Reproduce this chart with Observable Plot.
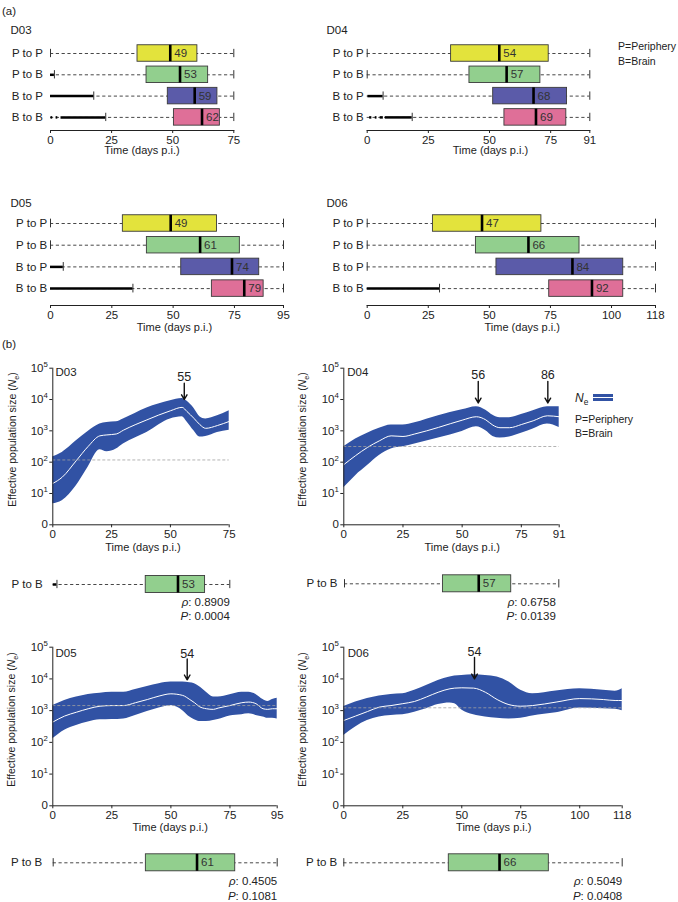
<!DOCTYPE html>
<html><head><meta charset="utf-8">
<script src="https://cdn.jsdelivr.net/npm/d3@7"></script>
<script src="https://cdn.jsdelivr.net/npm/@observablehq/plot@0.6"></script>
<style>
body{margin:0;background:#fff;}
#root{position:relative;width:678px;height:902px;overflow:hidden;font-family:"Liberation Sans",Arial,Helvetica,sans-serif;color:#222;background:#fff;}
.abs{position:absolute;white-space:nowrap;line-height:1;}
</style></head><body><div id="root"></div>
<script>
// ---------------- DATA ----------------
const rows = ["P to P", "P to B", "B to P", "B to B"];
const rowColors = ["#e3e33c", "#92cf8e", "#5b5ba9", "#df6f98"];
const legendTexts = ["P=Periphery", "B=Brain"];

const maxD03 = 75, maxD04 = 91, maxD05 = 95, maxD06 = 118;
const ticksD03 = [0, 25, 50, 75];
const ticksD04 = [0, 25, 50, 75, 91];
const ticksD05 = [0, 25, 50, 75, 95];
const ticksD06 = [0, 25, 50, 75, 100, 118];

// box limits (days p.i.) per row: P to P, P to B, B to P, B to B
const q1D03 = [35.6, 39.3, 48.0, 50.5];
const q3D03 = [60.1, 64.5, 68.3, 69.3];
const medD03 = [49, 53, 59, 62];
const q1D04 = [34.3, 41.8, 51.5, 56.1];
const q3D04 = [74.2, 70.8, 81.7, 81.4];
const medD04 = [54, 57, 68, 69];
const q1D05 = [29.5, 39.3, 53.3, 65.8];
const q3D05 = [67.9, 77.2, 85.1, 86.9];
const medD05 = [49, 61, 74, 79];
const q1D06 = [26.9, 44.5, 52.9, 74.5];
const q3D06 = [71.3, 86.9, 104.8, 104.8];
const medD06 = [47, 66, 84, 92];

// solid black segments: [row index, start day, end day]
const solidD03 = [[1, 0, 1.6], [2, 0, 17.7], [3, 0.2, 0.9], [3, 2.3, 3.0], [3, 4.3, 22.6]];
const solidD04 = [[2, 0.3, 6.5], [3, 1.0, 1.9], [3, 3.3, 4.0], [3, 5.3, 6.6], [3, 7.4, 18.4]];
const solidD05 = [[2, 0, 5.2], [3, 0, 33.6]];
const solidD06 = [[3, 0, 29.6]];

// Bayesian skyline (log10 Ne): days, upper HPD, median, lower HPD
const dayD03 = [0, 4, 10, 15, 20, 23, 27, 30, 40, 50, 55, 57, 60, 62.5, 65, 70, 75];
const upD03  = [2.17, 2.31, 2.68, 2.98, 3.22, 3.27, 3.29, 3.38, 3.73, 3.96, 4.03, 3.95, 3.72, 3.45, 3.38, 3.48, 3.64];
const midD03 = [1.32, 1.52, 2.05, 2.50, 2.84, 2.87, 2.90, 3.02, 3.35, 3.64, 3.75, 3.62, 3.40, 3.20, 3.08, 3.17, 3.30];
const loD03  = [0.67, 0.77, 1.25, 1.84, 2.40, 2.33, 2.42, 2.58, 2.95, 3.38, 3.45, 3.29, 3.00, 2.80, 2.82, 2.95, 3.02];

const dayD04 = [0, 5, 10, 15, 20, 25, 30, 40, 50, 56, 60, 63, 66, 70, 75, 80, 86, 91];
const upD04  = [2.49, 2.74, 2.92, 3.08, 3.19, 3.19, 3.26, 3.48, 3.67, 3.77, 3.66, 3.50, 3.42, 3.42, 3.52, 3.64, 3.77, 3.77];
const midD04 = [1.92, 2.21, 2.47, 2.68, 2.84, 2.82, 2.90, 3.11, 3.34, 3.45, 3.35, 3.18, 3.10, 3.10, 3.20, 3.32, 3.48, 3.45];
const loD04  = [1.18, 1.57, 1.89, 2.21, 2.42, 2.49, 2.58, 2.77, 2.98, 3.13, 3.00, 2.82, 2.77, 2.80, 2.92, 3.06, 3.22, 3.11];

const dayD05 = [0, 5, 10, 15, 20, 25, 30, 35, 40, 45, 50, 55, 58, 60, 62, 65, 68, 70, 75, 80, 83, 86, 89, 91, 93, 95];
const upD05  = [3.16, 3.32, 3.43, 3.51, 3.55, 3.58, 3.58, 3.67, 3.76, 3.85, 3.90, 3.90, 3.88, 3.85, 3.76, 3.58, 3.43, 3.43, 3.50, 3.58, 3.58, 3.51, 3.35, 3.29, 3.35, 3.39];
const midD05 = [2.64, 2.83, 2.95, 3.06, 3.14, 3.16, 3.16, 3.25, 3.35, 3.46, 3.53, 3.48, 3.35, 3.25, 3.13, 3.06, 3.04, 3.08, 3.16, 3.25, 3.27, 3.22, 3.06, 3.04, 3.06, 3.06];
const loD05  = [2.11, 2.38, 2.53, 2.64, 2.71, 2.72, 2.74, 2.85, 2.97, 3.08, 3.16, 3.00, 2.80, 2.71, 2.66, 2.66, 2.69, 2.72, 2.83, 2.87, 2.90, 2.85, 2.80, 2.76, 2.76, 2.74];

const dayD06 = [0, 10, 15, 20, 25, 30, 35, 40, 45, 47, 50, 55, 60, 65, 70, 75, 80, 90, 100, 110, 115, 118];
const upD06  = [3.13, 3.38, 3.46, 3.51, 3.53, 3.64, 3.79, 3.95, 4.06, 4.09, 4.11, 4.13, 4.11, 4.06, 3.90, 3.64, 3.53, 3.62, 3.69, 3.64, 3.61, 3.69];
const midD06 = [2.69, 2.97, 3.11, 3.16, 3.22, 3.29, 3.43, 3.58, 3.69, 3.71, 3.72, 3.71, 3.58, 3.35, 3.19, 3.14, 3.16, 3.27, 3.38, 3.35, 3.32, 3.32];
const loD06  = [2.22, 2.69, 2.80, 2.85, 2.87, 2.95, 3.06, 3.19, 3.24, 3.22, 3.02, 2.87, 2.80, 2.76, 2.74, 2.76, 2.83, 2.93, 3.08, 3.06, 3.04, 3.00];

// dashed reference level (log10 Ne)
const refLevel = [2.07, 2.50, 3.16, 3.09];

// arrows: day position, label, log10 of label / arrow start / arrow tip
const arrowDayD03 = [55.9], arrowLabD03 = ["55"];
const arrowDayD04 = [56.8, 86.2], arrowLabD04 = ["56", "86"];
const arrowDayD05 = [56.9], arrowLabD05 = ["54"];
const arrowDayD06 = [55.4], arrowLabD06 = ["54"];
const arrowTip = [4.0, 3.89, 3.97, 4.0];
const arrowTop = [4.52, 4.58, 4.63, 4.68];
const arrowText = [4.73, 4.78, 4.79, 4.86];

const rhoVals = ["0.8909", "0.6758", "0.4505", "0.5049"];
const pVals = ["0.0004", "0.0139", "0.1081", "0.0408"];

// ---------------- DRAWING ----------------
const FONT = '"Liberation Sans", Arial, Helvetica, sans-serif';
const BLUE = "#3152a4";
const root = document.getElementById("root");
const SVGNS = "http://www.w3.org/2000/svg";

// *x* italic, ^c superscript, _c subscript
function rich(t) {
  if (t.querySelector("tspan")) return;
  const s = t.textContent;
  if (!/[\^_*]/.test(s)) return;
  const fs = parseFloat(getComputedStyle(t).fontSize) || 11;
  t.textContent = "";
  let italic = false, shift = 0, buf = "";
  const add = (str, ital, target, scale) => {
    const ts = document.createElementNS(SVGNS, "tspan");
    ts.textContent = str;
    if (ital) ts.setAttribute("font-style", "italic");
    if (scale !== 1) ts.setAttribute("font-size", (fs * scale).toFixed(2));
    const dy = target - shift;
    if (dy) ts.setAttribute("dy", dy.toFixed(2));
    shift = target;
    t.appendChild(ts);
  };
  const flush = () => { if (buf) { add(buf, italic, 0, 1); buf = ""; } };
  for (let i = 0; i < s.length; i++) {
    const c = s[i];
    if (c === "*") { flush(); italic = !italic; continue; }
    if (c === "^" || c === "_") { flush(); add(s[i + 1], italic, c === "^" ? -fs * 0.42 : fs * 0.3, 0.68); i++; continue; }
    buf += c;
  }
  flush();
}

function place(node, left, top) {
  node.style.position = "absolute";
  node.style.left = left + "px";
  node.style.top = top + "px";
  root.appendChild(node);
  node.querySelectorAll("text").forEach(rich);
}

function htmlText(html, left, cy, size = 11) {
  const d = document.createElement("div");
  d.className = "abs";
  d.style.left = left + "px";
  d.style.top = (cy - size * 0.55) + "px";
  d.style.fontSize = size + "px";
  d.innerHTML = html;
  root.appendChild(d);
}

const plotStyle = {fontFamily: FONT, fontSize: "11px", background: "transparent", color: "#222", overflow: "visible"};

function boxPanel(o) {
  const idx = o.rowIdx;
  const data = idx.map(i => ({row: rows[i], lo: o.q1[i], hi: o.q3[i], med: o.med[i], color: rowColors[i]}));
  const segs = o.solid.filter(s => idx.includes(s[0])).map(([i, a, b]) => ({row: rows[i], a, b}));
  const ends = [];
  for (const i of idx) {
    const rs = segs.filter(s => s.row === rows[i]);
    ends.push({row: rows[i], x: rs.length ? d3.max(rs, s => s.b) : 0});
    ends.push({row: rows[i], x: o.max});
  }
  const n = idx.length;
  const bandTop = o.rowY0 - o.step / 2 - o.top;
  const frameBottom = o.axisY != null ? o.axisY - o.top : bandTop + n * o.step;
  const inset = (o.step - o.boxH) / 2;
  const marks = [
    Plot.ruleY(data, {y: "row", x1: () => 0, x2: () => o.max, stroke: "#333", strokeWidth: 0.9, strokeDasharray: "3.2,2.6"}),
    Plot.ruleY(segs, {y: "row", x1: "a", x2: "b", stroke: "#000", strokeWidth: 2.5}),
    Plot.tickX(ends, {x: "x", y: "row", stroke: "#333", strokeWidth: 1, insetTop: 6.5, insetBottom: 6.5}),
    Plot.barX(data, {x1: "lo", x2: "hi", y: "row", fill: "color", stroke: "#3a3a3a", strokeWidth: 0.9, insetTop: inset, insetBottom: inset}),
    Plot.tickX(data, {x: "med", y: "row", stroke: "#000", strokeWidth: 2.6, insetTop: inset, insetBottom: inset}),
    Plot.text(data, {x: "med", y: "row", text: d => String(d.med), textAnchor: "start", dx: 4, fill: "#333", fontSize: 11.5}),
    Plot.axisY({tickSize: 0, tickPadding: o.labelGap, label: null, fontSize: 11.5})
  ];
  if (o.axisY != null) {
    marks.push(
      Plot.frame({anchor: "bottom", stroke: "#222"}),
      Plot.axisX({ticks: o.ticks, tickSize: 3, tickPadding: 2, tickFormat: d => String(d), label: null, fontSize: 11.5}),
      Plot.text(["Time (days p.i.)"], {frameAnchor: "bottom", text: d => d, textAnchor: "middle", lineAnchor: "middle",
        dx: o.titleX - (o.x0 + o.x1) / 2, dy: o.titleY - o.axisY, fontSize: 11})
    );
  }
  if (o.name) {
    marks.push(Plot.text([o.name], {frameAnchor: "top-left", text: d => d, textAnchor: "start", lineAnchor: "middle",
      dx: o.nameX - o.x0, dy: o.nameY - o.top - 2, fontSize: 11.5}));
  }
  if (o.stats) {
    o.stats.forEach((s, k) => {
      marks.push(Plot.text([s], {x: () => o.max, y: () => rows[idx[0]], text: d => d, textAnchor: "end", dx: o.statsDx || 0, dy: o.statsDy[k], fontSize: 11.5}));
    });
  }
  const svg = Plot.plot({
    width: o.width, height: o.height,
    marginLeft: o.x0 - o.left, marginRight: o.left + o.width - o.x1,
    marginTop: 2, marginBottom: o.height - frameBottom,
    style: plotStyle,
    x: {domain: [0, o.max], axis: null, label: null},
    y: {type: "band", domain: idx.map(i => rows[i]), range: [bandTop, bandTop + n * o.step], padding: 0, round: false, axis: null, label: null},
    marks
  });
  place(svg, o.left, o.top);
}

function skyPanel(o) {
  const data = o.days.map((d, i) => ({day: d, up: o.up[i], mid: o.mid[i], lo: o.lo[i]}));
  const arrows = o.arrowDays.map((d, i) => ({day: d, label: o.arrowLabels[i], tip: o.tip, top: o.atop, lab: o.alab}));
  const svg = Plot.plot({
    width: o.width, height: o.height,
    marginLeft: o.x0 - o.left, marginRight: o.left + o.width - o.x1,
    marginTop: o.yTop - o.top, marginBottom: o.top + o.height - o.yBot,
    style: plotStyle,
    x: {domain: [0, o.max], axis: null, label: null},
    y: {type: "log", domain: [1, 1e5], axis: null, label: null},
    marks: [
      Plot.areaY(data, {x: "day", y1: d => 10 ** d.lo, y2: d => 10 ** d.up, fill: BLUE, curve: "monotone-x"}),
      Plot.lineY(data, {x: "day", y: d => 10 ** d.mid, stroke: "#ffffff", strokeWidth: 1, curve: "monotone-x"}),
      Plot.ruleY([o.ref], {y: d => 10 ** d, x1: 0, x2: o.max, stroke: "#a0a0a0", strokeWidth: 0.8, strokeDasharray: "3,2"}),
      Plot.ruleX([0], {stroke: "#222", strokeWidth: 1}),
      Plot.ruleY([1], {stroke: "#222", strokeWidth: 1}),
      Plot.axisX({ticks: o.ticks, tickSize: 3, tickPadding: 2, tickFormat: d => String(d), label: null, fontSize: 11.5}),
      Plot.axisY({ticks: [1, 10, 100, 1e3, 1e4, 1e5], tickSize: 3, tickPadding: 2, label: null, fontSize: 11.5,
        tickFormat: d => d === 1 ? "0" : "10^" + Math.round(Math.log10(d))}),
      Plot.arrow(arrows, {x: "day", y1: d => 10 ** d.top, y2: d => 10 ** d.tip, stroke: "#111", strokeWidth: 1.4, headLength: 6}),
      Plot.text(arrows, {x: "day", y: d => 10 ** d.lab, text: "label", fontSize: 12.5, fill: "#222"}),
      Plot.text([o.name], {frameAnchor: "top-left", text: d => d, textAnchor: "start", lineAnchor: "middle",
        dx: o.nameX - o.x0, dy: o.nameY - o.yTop, fontSize: 11.5}),
      Plot.text(["Effective population size (*N*_e)"], {frameAnchor: "left", text: d => d, rotate: -90, textAnchor: "middle", lineAnchor: "middle",
        dx: o.ylabX - o.x0, dy: -7, fontSize: 10.5}),
      Plot.text(["Time (days p.i.)"], {frameAnchor: "bottom", text: d => d, textAnchor: "middle", lineAnchor: "middle",
        dx: o.titleX - (o.x0 + o.x1) / 2, dy: o.titleY - o.yBot, fontSize: 11})
    ]
  });
  place(svg, o.left, o.top);
}

// ----- panel (a) -----
const all = [0, 1, 2, 3];
boxPanel({left: 0, top: 20, width: 300, height: 140, x0: 50, x1: 233.3, max: maxD03, ticks: ticksD03, rowIdx: all,
  rowY0: 53, step: 21.3, boxH: 16.5, q1: q1D03, q3: q3D03, med: medD03, solid: solidD03, axisY: 130, labelGap: 7.5,
  name: "D03", nameX: 10, nameY: 30, titleX: 141.5, titleY: 150});
boxPanel({left: 300, top: 20, width: 300, height: 140, x0: 366.7, x1: 589.3, max: maxD04, ticks: ticksD04, rowIdx: all,
  rowY0: 53, step: 21.3, boxH: 16.5, q1: q1D04, q3: q3D04, med: medD04, solid: solidD04, axisY: 130, labelGap: 3.4,
  name: "D04", nameX: 326, nameY: 30, titleX: 490, titleY: 150});
boxPanel({left: 0, top: 190, width: 300, height: 145, x0: 50, x1: 283, max: maxD05, ticks: ticksD05, rowIdx: all,
  rowY0: 223, step: 21.7, boxH: 16.5, q1: q1D05, q3: q3D05, med: medD05, solid: solidD05, axisY: 305, labelGap: 3.3,
  name: "D05", nameX: 10, nameY: 203, titleX: 174, titleY: 327});
boxPanel({left: 300, top: 190, width: 378, height: 145, x0: 366.7, x1: 655, max: maxD06, ticks: ticksD06, rowIdx: all,
  rowY0: 223, step: 21.7, boxH: 16.5, q1: q1D06, q3: q3D06, med: medD06, solid: solidD06, axisY: 305, labelGap: 3.4,
  name: "D06", nameX: 326, nameY: 203, titleX: 521.7, titleY: 327});

// ----- panel (b) skylines -----
skyPanel({left: 0, top: 355, width: 290, height: 200, x0: 52.3, x1: 228.7, yTop: 367.7, yBot: 524.3, max: maxD03, ticks: ticksD03,
  days: dayD03, up: upD03, mid: midD03, lo: loD03, ref: refLevel[0],
  arrowDays: arrowDayD03, arrowLabels: arrowLabD03, tip: arrowTip[0], atop: arrowTop[0], alab: arrowText[0],
  name: "D03", nameX: 55, nameY: 372, ylabX: 12, titleX: 142.5, titleY: 546.7});
skyPanel({left: 290, top: 355, width: 285, height: 200, x0: 343.3, x1: 558.7, yTop: 367.7, yBot: 524.3, max: maxD04, ticks: ticksD04,
  days: dayD04, up: upD04, mid: midD04, lo: loD04, ref: refLevel[1],
  arrowDays: arrowDayD04, arrowLabels: arrowLabD04, tip: arrowTip[1], atop: arrowTop[1], alab: arrowText[1],
  name: "D04", nameX: 346.7, nameY: 372, ylabX: 302, titleX: 461.7, titleY: 546.7});
skyPanel({left: 0, top: 635, width: 290, height: 200, x0: 52.3, x1: 276.7, yTop: 646.7, yBot: 805.3, max: maxD05, ticks: ticksD05,
  days: dayD05, up: upD05, mid: midD05, lo: loD05, ref: refLevel[2],
  arrowDays: arrowDayD05, arrowLabels: arrowLabD05, tip: arrowTip[2], atop: arrowTop[2], alab: arrowText[2],
  name: "D05", nameX: 55, nameY: 653.3, ylabX: 11, titleX: 169.7, titleY: 826.7});
skyPanel({left: 290, top: 635, width: 388, height: 200, x0: 343.3, x1: 621.7, yTop: 646.7, yBot: 805.3, max: maxD06, ticks: ticksD06,
  days: dayD06, up: upD06, mid: midD06, lo: loD06, ref: refLevel[3],
  arrowDays: arrowDayD06, arrowLabels: arrowLabD06, tip: arrowTip[3], atop: arrowTop[3], alab: arrowText[3],
  name: "D06", nameX: 347.3, nameY: 653.3, ylabX: 302, titleX: 493.3, titleY: 826.7});

// ----- panel (b) P to B rows -----
boxPanel({left: 0, top: 570, width: 290, height: 55, x0: 52.7, x1: 229.3, max: maxD03, rowIdx: [1],
  rowY0: 584, step: 21.3, boxH: 17, q1: q1D03, q3: q3D03, med: medD03, solid: solidD03, labelGap: 10.5,
  stats: ["*ρ*: " + rhoVals[0], "*P*: " + pVals[0]], statsDy: [17.7, 32]});
boxPanel({left: 290, top: 570, width: 290, height: 55, x0: 344, x1: 558.3, max: maxD04, rowIdx: [1],
  rowY0: 583.3, step: 21.3, boxH: 17, q1: q1D04, q3: q3D04, med: medD04, solid: solidD04, labelGap: 7,
  stats: ["*ρ*: " + rhoVals[1], "*P*: " + pVals[1]], statsDy: [18.4, 32.7], statsDx: -3});
boxPanel({left: 0, top: 848, width: 290, height: 54, x0: 52.7, x1: 276.7, max: maxD05, rowIdx: [1],
  rowY0: 862.3, step: 21.3, boxH: 17, q1: q1D05, q3: q3D05, med: medD05, solid: solidD05, labelGap: 11,
  stats: ["*ρ*: " + rhoVals[2], "*P*: " + pVals[2]], statsDy: [18.7, 33.7]});
boxPanel({left: 290, top: 848, width: 388, height: 54, x0: 343.3, x1: 621.7, max: maxD06, rowIdx: [1],
  rowY0: 862.3, step: 21.3, boxH: 17, q1: q1D06, q3: q3D06, med: medD06, solid: solidD06, labelGap: 6.6,
  stats: ["*ρ*: " + rhoVals[3], "*P*: " + pVals[3]], statsDy: [18.7, 33.7]});

// ----- labels & legends -----
htmlText("(a)", 2, 12, 11.5);
htmlText("(b)", 2, 345, 11.5);
htmlText(legendTexts[0], 618, 47, 10.5);
htmlText(legendTexts[1], 618, 62, 10.5);
htmlText('<i>N</i><span style="font-size:70%;position:relative;top:0.3em">e</span>', 575, 399, 12);
(function () {
  const bar = document.createElement("div");
  bar.style.cssText = `position:absolute;left:592.7px;top:394px;width:20.6px;height:7px;background:${BLUE};`;
  const line = document.createElement("div");
  line.style.cssText = "position:absolute;left:0;top:3px;width:100%;height:1px;background:#fff;";
  bar.appendChild(line);
  root.appendChild(bar);
})();
htmlText(legendTexts[0], 575, 420, 10.5);
htmlText(legendTexts[1], 575, 434, 10.5);
</script></body></html>
